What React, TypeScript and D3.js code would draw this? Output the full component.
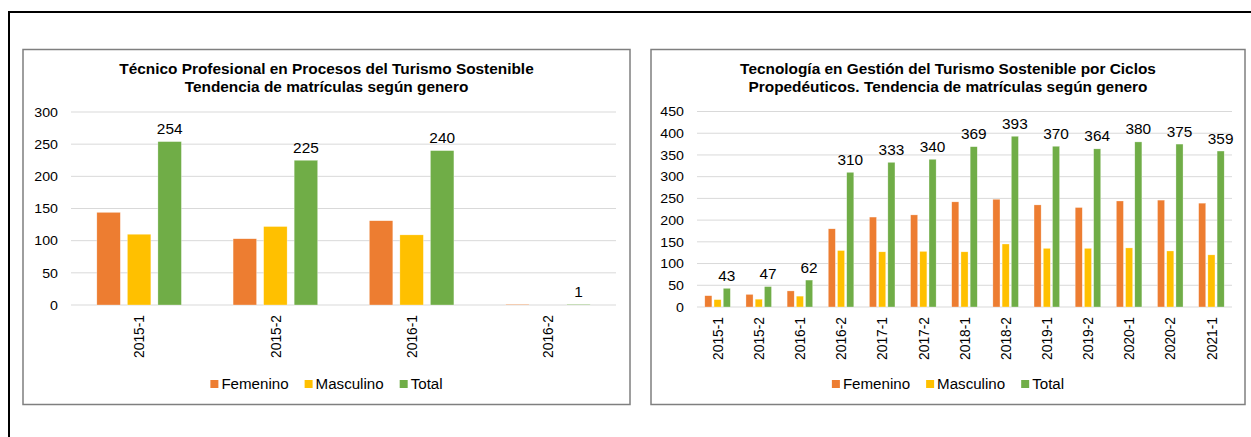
import React from "react";
import * as d3 from "d3";

const seriesNames = ["Femenino", "Masculino", "Total"];
const seriesColors = ["#ED7D31", "#FFC000", "#70AD47"];

const categories1 = ["2015-1", "2015-2", "2016-1", "2016-2"];
const femenino1 = [144, 103, 131, 1];
const masculino1 = [110, 122, 109, 0];
const total1 = [254, 225, 240, 1];
const yTicks1 = [0, 50, 100, 150, 200, 250, 300];
const title1 = ["Técnico Profesional en Procesos del Turismo Sostenible", "Tendencia de matrículas según genero"];

const categories2 = ["2015-1", "2015-2", "2016-1", "2016-2", "2017-1", "2017-2", "2018-1", "2018-2", "2019-1", "2019-2", "2020-1", "2020-2", "2021-1"];
const femenino2 = [26, 29, 37, 180, 207, 212, 242, 248, 235, 229, 244, 246, 239];
const masculino2 = [17, 18, 25, 130, 127, 128, 127, 145, 135, 135, 136, 129, 120];
const total2 = [43, 47, 62, 310, 333, 340, 369, 393, 370, 364, 380, 375, 359];
const yTicks2 = [0, 50, 100, 150, 200, 250, 300, 350, 400, 450];
const title2 = ["Tecnología en Gestión del Turismo Sostenible por Ciclos", "Propedéuticos. Tendencia de matrículas según genero"];

const FONT = "'Liberation Sans', Arial, sans-serif";
const SX_TITLE = 1.1;
const SX_LEG = 1.08;
const SX_LABEL = 1.1;
const SX_TICK = 1.05;

function measure(text: string, size: number, bold = false) {
  const c = document.createElement("canvas").getContext("2d");
  if (!c) return text.length * size * 0.55;
  c.font = `${bold ? "bold " : ""}${size}px ${FONT}`;
  return c.measureText(text).width;
}

type TProps = {
  x: number;
  y: number;
  sx: number;
  size: number;
  anchor?: string;
  bold?: boolean;
  dy?: string;
  children: React.ReactNode;
};

function T({ x, y, sx, size, anchor = "start", bold = false, dy, children }: TProps) {
  return (
    <text
      transform={`translate(${x},${y}) scale(${sx},1)`}
      textAnchor={anchor}
      fontSize={size}
      fontWeight={bold ? "bold" : "normal"}
      dy={dy}
      fill="#000"
    >
      {children}
    </text>
  );
}

type ChartProps = {
  box: { x: number; y: number; w: number; h: number };
  plot: { left: number; right: number; top: number; bottom: number };
  title: string[];
  categories: string[];
  series: number[][];
  yTicks: number[];
};

function Chart({ box, plot, title, categories, series, yTicks }: ChartProps) {
  const yMax = yTicks[yTicks.length - 1];
  const y = d3.scaleLinear().domain([0, yMax]).range([plot.bottom, plot.top]);
  const x0 = d3.scaleBand<string>().domain(categories).range([plot.left, plot.right]).paddingInner(0).paddingOuter(0);
  const w = x0.step() / 5.8;
  const groupW = 3.6 * w;
  const x1 = d3.scaleBand<string>().domain(seriesNames).range([0, groupW]).paddingInner(0.3 / 1.3).paddingOuter(0);
  const cx = box.x + box.w / 2;

  const legSize = 14;
  const items = seriesNames.map((n) => 8 + 3 + measure(n, legSize) * SX_LEG);
  const gap = 16;
  const total = items.reduce((a, b) => a + b, 0) + gap * (items.length - 1);
  let lx = cx - total / 2;
  const legendPos = items.map((iw) => {
    const p = lx;
    lx += iw + gap;
    return p;
  });

  return (
    <g fontFamily={FONT}>
      <rect x={box.x} y={box.y} width={box.w} height={box.h} fill="#fff" stroke="#7f7f7f" strokeWidth={1.5} />
      {title.map((t, i) => (
        <T key={i} x={cx} y={box.y + 24.5 + i * 17.5} sx={SX_TITLE} size={14} anchor="middle" bold>
          {t}
        </T>
      ))}
      {yTicks.map((t) => (
        <g key={t}>
          <line x1={plot.left} x2={plot.right} y1={y(t)} y2={y(t)} stroke="#d9d9d9" strokeWidth={1} />
          <T x={plot.left - 13} y={y(t)} dy="0.35em" sx={SX_TICK} size={13.5} anchor="end">
            {t}
          </T>
        </g>
      ))}
      {categories.map((c, ci) => {
        const gx = (x0(c) as number) + (x0.bandwidth() - groupW) / 2;
        const center = (x0(c) as number) + x0.bandwidth() / 2;
        return (
          <g key={c}>
            {series.map((s, si) => {
              const v = s[ci];
              const bx = gx + (x1(seriesNames[si]) as number);
              return (
                <rect key={si} x={bx} y={y(v)} width={x1.bandwidth()} height={y(0) - y(v)} fill={seriesColors[si]} stroke="#fff" strokeOpacity={0.6} strokeWidth={0.5} />
              );
            })}
            <T x={gx + (x1("Total") as number) + x1.bandwidth() / 2} y={y(series[2][ci]) - 7.5} sx={SX_LABEL} size={14} anchor="middle">
              {series[2][ci]}
            </T>
            <text transform={`translate(${center},${plot.bottom + 10}) rotate(-90) scale(1,1.08)`} dy="0.35em" textAnchor="end" fontSize={13.8} fill="#000">
              {c}
            </text>
          </g>
        );
      })}
      {seriesNames.map((n, i) => (
        <g key={n}>
          <rect x={legendPos[i]} y={380} width={8} height={8} fill={seriesColors[i]} />
          <T x={legendPos[i] + 11} y={384} dy="0.35em" sx={SX_LEG} size={legSize}>
            {n}
          </T>
        </g>
      ))}
    </g>
  );
}

export default function App() {
  return (
    <svg width={1251} height={437} style={{ position: "absolute", left: 0, top: 0, background: "#fff" }}>
      <rect x={0} y={0} width={1251} height={437} fill="#fff" />
      <line x1={8} x2={1251} y1={12} y2={12} stroke="#000" strokeWidth={2} />
      <line x1={9} x2={9} y1={11} y2={437} stroke="#000" strokeWidth={2} />
      <Chart
        box={{ x: 23, y: 49.5, w: 607, h: 355 }}
        plot={{ left: 71, right: 616, top: 112, bottom: 305 }}
        title={title1}
        categories={categories1}
        series={[femenino1, masculino1, total1]}
        yTicks={yTicks1}
      />
      <Chart
        box={{ x: 651, y: 49.5, w: 594, h: 355 }}
        plot={{ left: 697, right: 1232, top: 111.5, bottom: 307 }}
        title={title2}
        categories={categories2}
        series={[femenino2, masculino2, total2]}
        yTicks={yTicks2}
      />
    </svg>
  );
}
